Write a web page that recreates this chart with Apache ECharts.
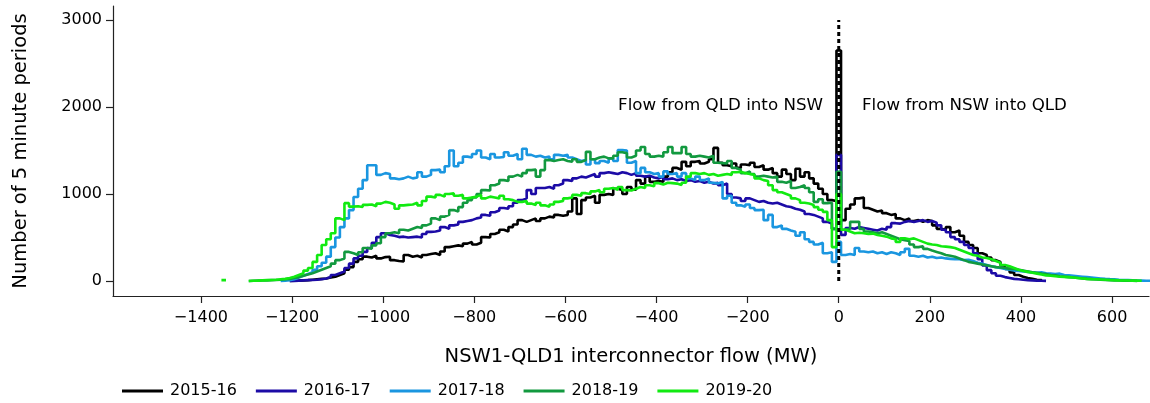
<!DOCTYPE html>
<html>
<head>
<meta charset="utf-8">
<script src="https://cdn.jsdelivr.net/npm/echarts@6/dist/echarts.min.js"></script>
<style>
html,body{margin:0;padding:0;background:#fff;}
#c{width:1150px;height:403px;}
</style>
</head>
<body>
<div id="c"></div>
<script>
// ---- data (10 MW bins, values = number of 5 minute periods; start = centre of first bin) ----
const BIN_WIDTH = 10;
const years = ['2015-16', '2016-17', '2017-18', '2018-19', '2019-20'];
const colors = ['#000000', '#1c0ba6', '#1a96e0', '#12993f', '#11ea11'];
const xTicks = [-1400, -1200, -1000, -800, -600, -400, -200, 0, 200, 400, 600];
const yTicks = [0, 1000, 2000, 3000];

const start2015 = -1200;
const flow2015 = [
  3,5,8,10,15, 20,25,30,40,50, 70,90,130,160,220, 250,280,270,290,260,
  275,280,240,230,225, 300,280,290,270,300, 310,320,300,340,390, 400,410,400,430,450,
  420,440,505,500,540, 560,590,570,620,650, 700,680,700,720,690, 720,740,730,760,750,
  760,800,950,770,930, 960,980,900,990,1000, 990,1060,1045,1000,1080, 1050,1160,1120,1200,1140,
  1150,1140,1200,1250,1300, 1280,1370,1320,1370,1380, 1350,1370,1400,1530,1360, 1330,1320,1350,1300,1340,
  1330,1360,1310,1330,1280, 1300,1240,1200,1280,1230, 1160,1290,1200,1250,1180, 1120,1060,1000,930,920,
  2650,
  700,830,880,950,960, 840,820,800,810,780, 760,770,720,700,720, 690,700,680,700,690,
  640,600,590,620,560, 580,520,450,415,380, 320,300,270,240,220, 180,140,100,70,50,
  35,25,15,10
];

const start2016 = -1200;
const flow2016 = [
  2,5,8,10,12, 15,20,30,45,70, 90,110,150,200,260, 290,335,380,440,505,
  550,530,520,505,510, 500,505,510,500,540, 565,570,580,620,600, 640,650,680,690,700,
  720,730,760,750,790, 810,840,830,860,900, 930,950,1045,1000,1070, 1070,1080,1060,1100,1120,
  1160,1150,1180,1200,1190, 1210,1230,1200,1240,1250, 1240,1230,1250,1240,1220, 1240,1210,1200,1210,1190,
  1180,1200,1170,1180,1160, 1170,1150,1160,1140,1150, 1130,1140,1120,1130,1100, 1120,1000,960,950,920,
  950,930,910,920,900, 890,900,880,860,850, 830,820,800,770,760, 740,720,680,660,600,
  1450,
  530,610,600,620,610, 600,590,580,600,590, 620,665,660,680,690, 680,690,700,680,690,
  670,640,590,560,505, 480,450,415,380,320, 250,180,125,90,60, 45,35,25,20,15,
  10,8,5,3,2
];

const start2017 = -1220;
const flow2017 = [
  5,10,
  20,40,60,80,100, 130,170,210,280,390, 500,620,720,815,965, 1060,1160,1330,1330,1220,
  1240,1230,1180,1170,1180, 1200,1180,1190,1250,1200, 1220,1275,1280,1250,1320, 1500,1320,1360,1430,1420,
  1460,1500,1420,1400,1460, 1420,1425,1480,1440,1460, 1400,1520,1450,1430,1440, 1420,1430,1400,1450,1440,
  1450,1420,1400,1380,1390, 1340,1400,1355,1380,1360, 1410,1380,1505,1500,1360, 1380,1240,1300,1250,1230,
  1240,1200,1260,1230,1240, 1200,1240,1180,1160,1200, 1160,1180,1130,1120,1140, 950,980,900,870,855,
  880,840,815,820,700, 760,620,640,600,580, 565,520,560,480,450, 420,440,320,330,220,
  450,
  300,310,300,380,340, 330,340,320,330,310, 330,320,300,330,370, 290,280,290,270,280,
  265,270,260,255,250, 250,240,245,230,210, 200,185,170,160,150, 140,130,120,115,110,
  105,100,95,100,90, 85,80,85,70,65, 60,55,50,45,40, 35,30,25,22,20,
  15,12,10,8,6, 5,4,3
];

const start2018 = -1290;
const flow2018 = [
  3,5,6,8,
  10,12,15,20,25, 35,45,60,75,90, 110,130,150,170,200, 240,260,335,320,300,
  330,380,370,410,435, 505,550,560,550,590, 580,600,620,610,640, 660,720,700,740,760,
  815,800,850,900,930, 960,1000,1045,1040,1100, 1120,1160,1150,1200,1220, 1200,1240,1275,1280,1200,
  1275,1390,1380,1390,1400, 1380,1370,1400,1370,1390, 1485,1400,1420,1430,1410, 1410,1440,1480,1470,1420,
  1440,1500,1540,1460,1430, 1440,1430,1480,1540,1470, 1470,1540,1460,1430,1440, 1430,1420,1440,1360,1355,
  1350,1380,1300,1280,1240, 1260,1230,1200,1210,1200, 1190,1200,1140,1130,1150, 1070,1080,1100,1070,1020,
  910,940,895,900,600,
  1255,
  590,600,680,680,600, 570,560,550,560,540, 520,500,480,470,460, 420,390,400,370,350,
  335,320,300,290,280, 260,240,220,210,200, 190,180,170,160,155, 150,140,140,130,120,
  110,100,95,85,80, 70,65,55,50,45, 40,35,30,25,22, 18,15,12,10,8,
  6,5,4,3,2
];

const start2019 = -1290;
const flow2019 = [
  3,5,8,10,
  12,15,20,25,35, 50,70,90,120,150, 220,300,415,480,550, 720,700,895,855,860,
  850,875,880,860,890, 910,900,880,830,870, 875,880,900,870,920, 970,960,990,970,1000,
  1010,980,990,950,960, 970,990,950,970,960, 950,980,940,930,910, 910,920,890,875,900,
  870,855,880,910,920, 950,960,990,980,1010, 1000,1030,1045,1020,1060, 1070,1050,1080,1045,1040,
  1060,1080,1070,1100,1090, 1125,1110,1130,1125,1120, 1105,1130,1200,1240,1230, 1240,1220,1230,1210,1220,
  1230,1220,1250,1255,1240, 1230,1220,1180,1160,1150, 1100,1045,1020,1000,980, 950,930,900,890,875,
  850,820,795,700,390,
  1000,
  590,570,550,555,550, 540,545,530,520,510, 490,480,450,490,480, 490,470,450,430,420,
  415,400,395,390,380, 360,340,320,300,290, 270,265,250,230,210, 185,170,150,130,115,
  105,95,85,75,65, 60,55,50,48,45, 40,35,30,25,22, 20,18,15,12,10,
  8,7,6,5,5,4
];
// isolated bin of 2019-20 far to the left
const start2019Iso = -1350;
const flow2019Iso = [10];

const starts = [start2015, start2016, start2017, start2018, start2019];
const flows = [flow2015, flow2016, flow2017, flow2018, flow2019];

// ---- build step outlines from bins ----
function stepOutline(startCentre, values, baseline) {
  const left = startCentre - BIN_WIDTH / 2;
  const pts = [];
  if (baseline) pts.push([left, 0]);
  values.forEach((v, i) => pts.push([left + i * BIN_WIDTH, v]));
  const right = left + values.length * BIN_WIDTH;
  pts.push([right, values[values.length - 1]]);
  if (baseline) pts.push([right, 0]);
  return pts;
}

const FONT = 'DejaVu Sans';
const LW = 2.6;
const series = years.map((y, i) => ({
  name: y,
  type: 'line',
  step: 'end',
  data: stepOutline(starts[i], flows[i], true),
  showSymbol: false,
  symbol: 'none',
  lineStyle: { color: colors[i], width: LW },
  itemStyle: { color: colors[i] },
  silent: true,
  z: 2 + i
}));
series.push({
  name: '2019-20',
  type: 'line',
  step: 'end',
  data: stepOutline(start2019Iso, flow2019Iso, false),
  showSymbol: false,
  symbol: 'none',
  lineStyle: { color: colors[4], width: LW },
  itemStyle: { color: colors[4] },
  silent: true,
  z: 6
});
// zero-flow dotted marker
series.push({
  name: 'zero',
  type: 'line',
  data: [[0, 0], [0, 3000]],
  showSymbol: false,
  symbol: 'none',
  lineStyle: { color: '#000', width: 3, type: [4, 3] },
  silent: true,
  z: 10
});

const minus = v => (v < 0 ? '\u2212' + Math.abs(v) : String(v));

const chart = echarts.init(document.getElementById('c'), null, { renderer: 'canvas' });
chart.setOption({
  animation: false,
  backgroundColor: '#fff',
  textStyle: { fontFamily: FONT },
  grid: { left: 113, right: 1, top: 6, bottom: 107, containLabel: false },
  xAxis: {
    type: 'value',
    min: -1593,
    max: 681,
    splitLine: { show: false },
    axisLine: { show: true, onZero: false, lineStyle: { color: '#222', width: 1.2 } },
    axisTick: { show: true, length: 7, customValues: xTicks, lineStyle: { color: '#222', width: 1.2 } },
    axisLabel: { customValues: xTicks, formatter: minus, color: '#000', fontSize: 16, fontFamily: FONT, margin: 14 }
  },
  yAxis: {
    type: 'value',
    min: -172,
    max: 3161,
    splitLine: { show: false },
    axisLine: { show: true, onZero: false, lineStyle: { color: '#222', width: 1.2 } },
    axisTick: { show: true, length: 7, customValues: yTicks, lineStyle: { color: '#222', width: 1.2 } },
    axisLabel: { customValues: yTicks, formatter: minus, color: '#000', fontSize: 16, fontFamily: FONT, margin: 11 }
  },
  legend: {
    data: years,
    left: 117,
    top: 378,
    icon: 'rect',
    itemWidth: 41,
    itemHeight: 3,
    itemGap: 19,
    textStyle: { fontSize: 16, fontFamily: FONT, color: '#000', padding: [0, 0, 0, 2] }
  },
  graphic: [
    { type: 'text', x: 21, y: 151, rotation: Math.PI / 2,
      style: { text: 'Number of 5 minute periods', font: '19.5px "DejaVu Sans"', fill: '#000', align: 'center', verticalAlign: 'middle' } },
    { type: 'text', x: 631, y: 357,
      style: { text: 'NSW1-QLD1 interconnector flow (MW)', font: '19.5px "DejaVu Sans"', fill: '#000', align: 'center', verticalAlign: 'middle' } },
    { type: 'text', x: 823, y: 106,
      style: { text: 'Flow from QLD into NSW', font: '16.7px "DejaVu Sans"', fill: '#000', align: 'right', verticalAlign: 'middle' } },
    { type: 'text', x: 862, y: 106,
      style: { text: 'Flow from NSW into QLD', font: '16.7px "DejaVu Sans"', fill: '#000', align: 'left', verticalAlign: 'middle' } }
  ],
  series: series
});
</script>
</body>
</html>
